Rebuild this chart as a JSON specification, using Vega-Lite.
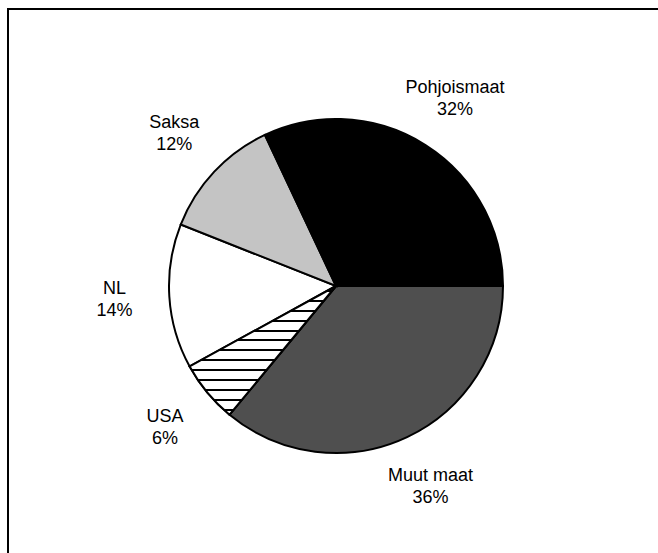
{
  "$schema": "https://vega.github.io/schema/vega-lite/v6.json",
  "width": 654,
  "height": 548,
  "autosize": {"type": "none"},
  "padding": {"left": 8, "top": 9, "right": 0, "bottom": 0},
  "background": "white",
  "view": {"stroke": "black", "strokeWidth": 2},
  "config": {"font": "Liberation Sans"},
  "data": {
    "values": [
      {"alue": "Muut maat", "osuus": 0.36, "jarj": 1},
      {"alue": "USA", "osuus": 0.06, "jarj": 2},
      {"alue": "NL", "osuus": 0.14, "jarj": 3},
      {"alue": "Saksa", "osuus": 0.12, "jarj": 4},
      {"alue": "Pohjoismaat", "osuus": 0.32, "jarj": 5}
    ]
  },
  "encoding": {
    "theta": {"field": "osuus", "type": "quantitative", "stack": true, "scale": {"range": [1.5708, 7.854]}},
    "order": {"field": "jarj", "type": "quantitative"}
  },
  "layer": [
    {
      "mark": {"type": "arc", "radius": 167, "stroke": "black", "strokeWidth": 2, "xOffset": 1, "yOffset": 3},
      "encoding": {
        "color": {
          "field": "alue",
          "type": "nominal",
          "scale": {
            "domain": ["Muut maat", "USA", "NL", "Saksa", "Pohjoismaat"],
            "range": ["#4f4f4f", "#ffffff", "#ffffff", "#c4c4c4", "#000000"]
          },
          "legend": null
        }
      }
    },
    {
      "mark": {
        "type": "arc",
        "radius": 167,
        "stroke": "black",
        "strokeWidth": 2,
        "xOffset": 1,
        "yOffset": 3,
        "fill": {
          "gradient": "linear",
          "x1": 0, "y1": 0, "x2": 0, "y2": 1,
          "stops": [
            {"offset": 0, "color": "white"},
            {"offset": 0.0305, "color": "white"}, {"offset": 0.0305, "color": "black"}, {"offset": 0.0465, "color": "black"}, {"offset": 0.0465, "color": "white"},
            {"offset": 0.1074, "color": "white"}, {"offset": 0.1074, "color": "black"}, {"offset": 0.1234, "color": "black"}, {"offset": 0.1234, "color": "white"},
            {"offset": 0.1843, "color": "white"}, {"offset": 0.1843, "color": "black"}, {"offset": 0.2003, "color": "black"}, {"offset": 0.2003, "color": "white"},
            {"offset": 0.2612, "color": "white"}, {"offset": 0.2612, "color": "black"}, {"offset": 0.2772, "color": "black"}, {"offset": 0.2772, "color": "white"},
            {"offset": 0.3382, "color": "white"}, {"offset": 0.3382, "color": "black"}, {"offset": 0.3542, "color": "black"}, {"offset": 0.3542, "color": "white"},
            {"offset": 0.4151, "color": "white"}, {"offset": 0.4151, "color": "black"}, {"offset": 0.4311, "color": "black"}, {"offset": 0.4311, "color": "white"},
            {"offset": 0.492, "color": "white"}, {"offset": 0.492, "color": "black"}, {"offset": 0.508, "color": "black"}, {"offset": 0.508, "color": "white"},
            {"offset": 0.5689, "color": "white"}, {"offset": 0.5689, "color": "black"}, {"offset": 0.5849, "color": "black"}, {"offset": 0.5849, "color": "white"},
            {"offset": 0.6458, "color": "white"}, {"offset": 0.6458, "color": "black"}, {"offset": 0.6618, "color": "black"}, {"offset": 0.6618, "color": "white"},
            {"offset": 0.7228, "color": "white"}, {"offset": 0.7228, "color": "black"}, {"offset": 0.7388, "color": "black"}, {"offset": 0.7388, "color": "white"},
            {"offset": 0.7997, "color": "white"}, {"offset": 0.7997, "color": "black"}, {"offset": 0.8157, "color": "black"}, {"offset": 0.8157, "color": "white"},
            {"offset": 0.8766, "color": "white"}, {"offset": 0.8766, "color": "black"}, {"offset": 0.8926, "color": "black"}, {"offset": 0.8926, "color": "white"},
            {"offset": 0.9535, "color": "white"}, {"offset": 0.9535, "color": "black"}, {"offset": 0.9695, "color": "black"}, {"offset": 0.9695, "color": "white"},
            {"offset": 1, "color": "white"}
          ]
        }
      },
      "encoding": {
        "opacity": {"condition": {"test": "datum.alue === 'USA'", "value": 1}, "value": 0}
      }
    },
    {
      "mark": {"type": "text", "radius": 222, "dy": -11, "fontSize": 18, "color": "black", "xOffset": 1, "yOffset": 3},
      "encoding": {"text": {"field": "alue", "type": "nominal"}}
    },
    {
      "mark": {"type": "text", "radius": 222, "dy": 11, "fontSize": 18, "color": "black", "xOffset": 1, "yOffset": 3},
      "encoding": {"text": {"field": "osuus", "type": "quantitative", "format": ".0%"}}
    }
  ]
}
